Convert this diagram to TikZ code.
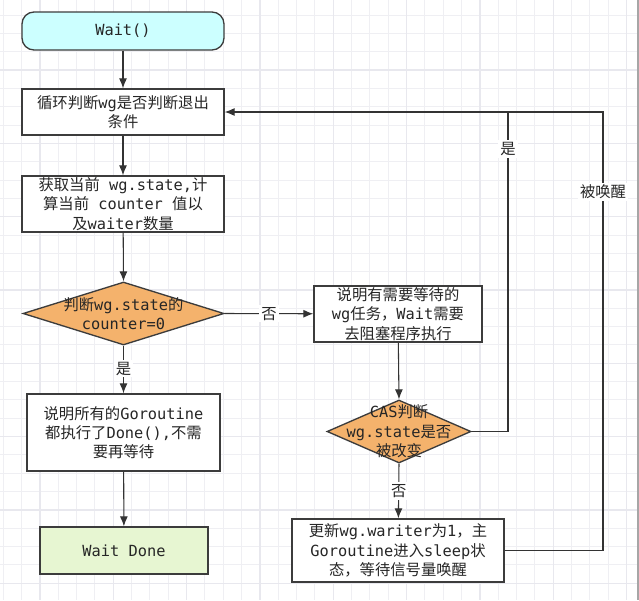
\documentclass[tikz,border=0pt]{standalone}
\usepackage{fontspec}
\setmainfont{DejaVu Sans Mono}
\newfontfamily\cjk{Noto Sans CJK SC}
\newcommand\zh[1]{{\cjk #1}}
\usetikzlibrary{shapes.geometric,arrows.meta}
\definecolor{lineC}{HTML}{333333}
\definecolor{boxC}{HTML}{3C3C3C}
\definecolor{cyanF}{HTML}{CCFFFF}
\definecolor{greenF}{HTML}{E7F6D2}
\definecolor{orangeF}{HTML}{F4B26C}
\definecolor{gridMinor}{HTML}{EFEFF3}
\definecolor{gridMajor}{HTML}{E8E8EE}
\tikzset{
  every node/.style={font=\fontsize{11.5pt}{14.5pt}\selectfont, text=black!85},
  box/.style={draw=boxC, line width=1pt, fill=white, align=center, inner sep=0pt},
  dia/.style={diamond, draw=boxC, line width=1pt, fill=orangeF, inner sep=0pt},
  conn/.style={draw=lineC, line width=0.8pt, -{Latex[length=7.5pt,width=6pt]}},
  plain/.style={draw=lineC, line width=0.8pt},
  lbl/.style={fill=white, inner sep=1.5pt},
}
\begin{document}
\begin{tikzpicture}[x=0.75pt,y=-0.75pt]
\useasboundingbox (0,0) rectangle (639,600);
\fill[white] (0,0) rectangle (639,600);
% grid
\foreach \k in {0,...,34} {
  \pgfmathsetmacro\xx{3.3+\k*18.333}
  \draw[gridMinor, line width=0.75pt] (\xx,0) -- (\xx,600);
}
\foreach \k in {-1,...,32} {
  \pgfmathsetmacro\yy{15+\k*18.333}
  \draw[gridMinor, line width=0.75pt] (0,\yy) -- (639,\yy);
}
\foreach \k in {0,...,8} {
  \pgfmathsetmacro\xx{40+\k*73.333}
  \draw[gridMajor, line width=0.9pt] (\xx,0) -- (\xx,600);
}
\foreach \k in {-1,...,7} {
  \pgfmathsetmacro\yy{70+\k*73.333}
  \draw[gridMajor, line width=0.9pt] (0,\yy) -- (639,\yy);
}
\draw[gray!70, line width=1.5pt] (637.5,0) -- (637.5,600);

% nodes
\node[box, fill=cyanF, rounded corners=9pt, minimum width=202*0.75pt, minimum height=38*0.75pt] (wait) at (123,31) {Wait()};
\node[box, minimum width=202*0.75pt, minimum height=46*0.75pt] (loop) at (123,112)
  {\zh{循环判断}wg\zh{是否判断退出}\\\zh{条件}};
\node[box, minimum width=202*0.75pt, minimum height=56*0.75pt] (get) at (123,204)
  {\zh{获取当前} wg.state,\zh{计}\\\zh{算当前} counter \zh{值以}\\\zh{及}waiter\zh{数量}};
\node[dia, minimum width=201*0.75pt, minimum height=63*0.75pt] (d1) at (123.5,313.5) {};
\node[align=center, inner sep=0pt] (d1t) at (d1.center) {\zh{判断}wg.state\zh{的}\\counter=0};
\node[box, minimum width=193*0.75pt, minimum height=77*0.75pt] (all) at (123.5,432.5)
  {\zh{说明所有的}Goroutine\\\zh{都执行了}Done(),\zh{不需}\\\zh{要再等待}};
\node[box, fill=greenF, minimum width=168*0.75pt, minimum height=47*0.75pt] (done) at (124,550.5) {Wait Done};
\node[box, minimum width=168*0.75pt, minimum height=56*0.75pt] (need) at (398,314)
  {\zh{说明有需要等待的}\\wg\zh{任务，}Wait\zh{需要}\\\zh{去阻塞程序执行}};
\node[dia, minimum width=144*0.75pt, minimum height=63*0.75pt] (d2) at (399,431.5) {};
\node[align=center, inner sep=0pt] (d2t) at (d2.center) {CAS\zh{判断}\\wg.state\zh{是否}\\\zh{被改变}};
\node[box, minimum width=212*0.75pt, minimum height=63*0.75pt] (upd) at (398,550.5)
  {\zh{更新}wg.wariter\zh{为}1\zh{，主}\\Goroutine\zh{进入}sleep\zh{状}\\\zh{态，等待信号量唤醒}};

\coordinate (r1) at (508,112);
\coordinate (r2) at (603,112);

% connectors
\draw[conn] (wait) -- (loop);
\draw[conn] (loop) -- (get);
\draw[conn] (get) -- (d1.north);
\draw[conn] (d1.south) -- node[lbl, pos=0.48] {\zh{是}} (all);
\draw[conn] (all) -- (done);
\draw[conn] (d1.east) -- node[lbl] {\zh{否}} (need);
\draw[conn] (need) -- (d2.north);
\draw[conn] (d2.south) -- node[lbl] {\zh{否}} (upd);
\draw[plain] (d2.east) -| (r1);
\draw[plain] (upd.east) -| (r2) -- (r1);
\draw[conn] (r1) -- (loop.east);
\node[lbl] at (508,149) {\zh{是}};
\node[lbl] at (603,192) {\zh{被唤醒}};
\end{tikzpicture}
\end{document}
